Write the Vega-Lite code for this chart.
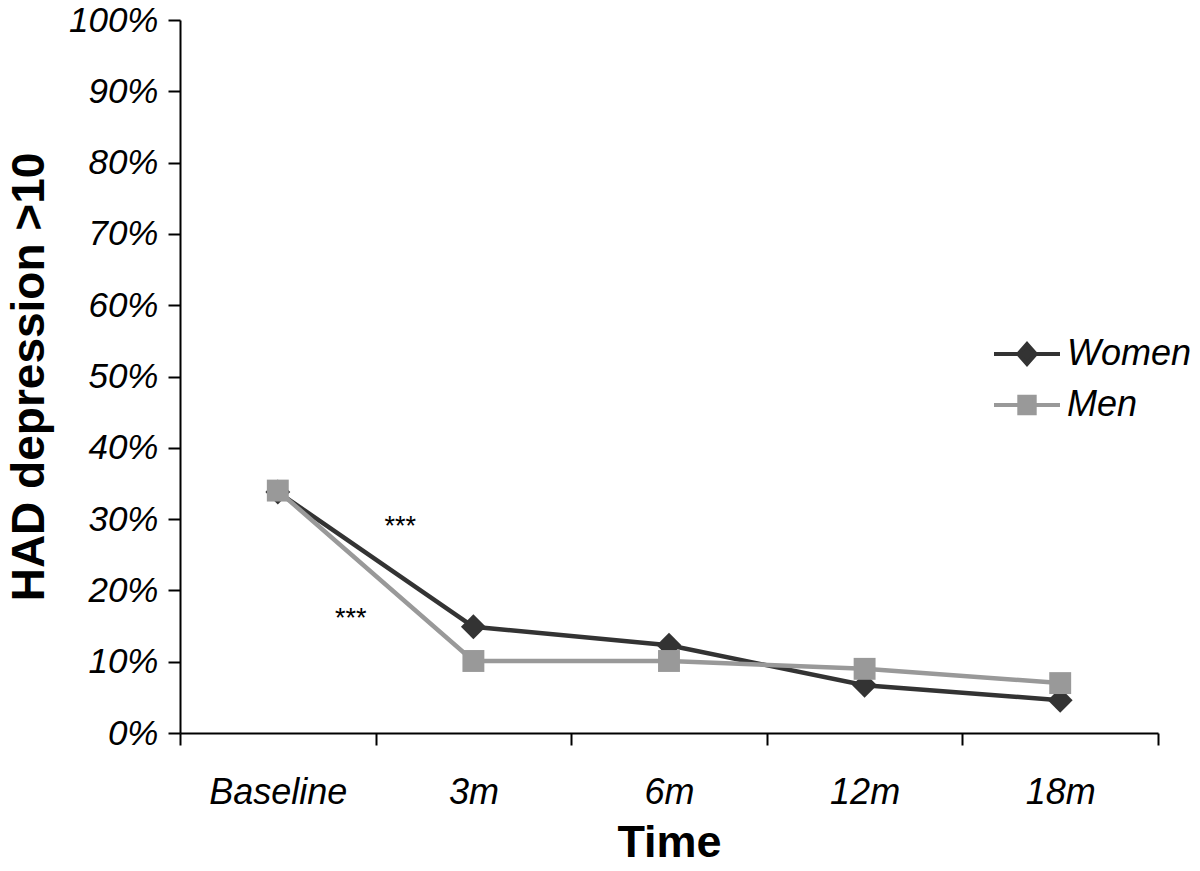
{
  "$schema": "https://vega.github.io/schema/vega-lite/v6.json",
  "width": 978,
  "height": 713,
  "autosize": {"type": "none"},
  "padding": {"left": 180, "top": 20, "right": 42, "bottom": 138},
  "background": "white",
  "config": {
    "view": {"stroke": null},
    "font": "Liberation Sans",
    "text": {"font": "Liberation Sans"},
    "legend": {
      "title": null,
      "orient": "none",
      "legendX": 829,
      "legendY": 316,
      "padding": 0,
      "symbolSize": 484,
      "labelFontSize": 36,
      "labelFontStyle": "italic",
      "labelColor": "black",
      "labelOffset": 22,
      "rowPadding": 15
    }
  },
  "datasets": {
    "series": [
      {"Sex": "Women", "Time": "Baseline", "value": 0.338},
      {"Sex": "Women", "Time": "3m", "value": 0.149},
      {"Sex": "Women", "Time": "6m", "value": 0.123},
      {"Sex": "Women", "Time": "12m", "value": 0.067},
      {"Sex": "Women", "Time": "18m", "value": 0.046},
      {"Sex": "Men", "Time": "Baseline", "value": 0.340},
      {"Sex": "Men", "Time": "3m", "value": 0.101},
      {"Sex": "Men", "Time": "6m", "value": 0.101},
      {"Sex": "Men", "Time": "12m", "value": 0.090},
      {"Sex": "Men", "Time": "18m", "value": 0.070}
    ]
  },
  "layer": [
    {
      "data": {"name": "series"},
      "mark": {"type": "line", "strokeWidth": 4.5},
      "encoding": {
        "x": {
          "field": "Time",
          "type": "nominal",
          "sort": ["Baseline", "3m", "6m", "12m", "18m"],
          "bandPosition": 0.5,
          "scale": {"type": "band", "paddingInner": 0, "paddingOuter": 0},
          "axis": {
            "title": "Time",
            "titleFontSize": 45,
            "titleFontWeight": "bold",
            "titleColor": "black",
            "titlePadding": 10,
            "labelFontSize": 36,
            "labelFontStyle": "italic",
            "labelColor": "black",
            "labelAngle": 0,
            "labelPadding": 30,
            "tickBand": "extent",
            "tickSize": 12,
            "tickWidth": 2,
            "tickColor": "black",
            "domainColor": "black",
            "domainWidth": 2,
            "grid": false
          }
        },
        "y": {
          "field": "value",
          "type": "quantitative",
          "scale": {"domain": [0, 1], "nice": false},
          "axis": {
            "values": [0, 0.1, 0.2, 0.3, 0.4, 0.5, 0.6, 0.7, 0.8, 0.9, 1.0],
            "format": ".0%",
            "title": "HAD depression >10",
            "titleFontSize": 46,
            "titleFontWeight": "bold",
            "titleColor": "black",
            "titlePadding": 15,
            "labelFontSize": 35,
            "labelFontStyle": "italic",
            "labelColor": "black",
            "labelPadding": 10,
            "tickSize": 12,
            "tickWidth": 2,
            "tickColor": "black",
            "domainColor": "black",
            "domainWidth": 2,
            "grid": false
          }
        },
        "color": {
          "field": "Sex",
          "type": "nominal",
          "scale": {"domain": ["Women", "Men"], "range": ["#333333", "#999999"]},
          "legend": {
            "encode": {
              "symbols": {
                "update": {
                  "shape": {"signal": "datum.value === 'Women' ? 'M-3,0L3,0M0,-0.9L0.8,0L0,0.9L-0.8,0Z' : 'M-3,0L3,0M-0.7,-0.75L0.7,-0.75L0.7,0.75L-0.7,0.75Z'"},
                  "fill": {"signal": "datum.value === 'Women' ? '#333333' : '#999999'"},
                  "stroke": {"signal": "datum.value === 'Women' ? '#333333' : '#999999'"},
                  "strokeWidth": {"value": 4},
                  "size": {"value": 484},
                  "opacity": {"value": 1}
                }
              }
            }
          }
        }
      }
    },
    {
      "data": {"name": "series"},
      "transform": [{"filter": "datum.Sex === 'Women'"}],
      "mark": {"type": "point", "filled": true, "opacity": 1, "size": 620, "shape": "diamond"},
      "encoding": {
        "x": {"field": "Time", "type": "nominal", "sort": ["Baseline", "3m", "6m", "12m", "18m"], "bandPosition": 0.5},
        "y": {"field": "value", "type": "quantitative"},
        "color": {"field": "Sex", "type": "nominal"}
      }
    },
    {
      "data": {"name": "series"},
      "transform": [{"filter": "datum.Sex === 'Men'"}],
      "mark": {"type": "point", "filled": true, "opacity": 1, "size": 480, "shape": "square"},
      "encoding": {
        "x": {"field": "Time", "type": "nominal", "sort": ["Baseline", "3m", "6m", "12m", "18m"], "bandPosition": 0.5},
        "y": {"field": "value", "type": "quantitative"},
        "color": {"field": "Sex", "type": "nominal"}
      }
    },
    {
      "data": {"values": [{"Time": "3m", "value": 0.277, "label": "***"}]},
      "mark": {"type": "text", "fontSize": 27, "baseline": "alphabetic", "align": "center", "color": "black"},
      "encoding": {
        "x": {"field": "Time", "type": "nominal", "sort": ["Baseline", "3m", "6m", "12m", "18m"], "bandPosition": 0.126},
        "y": {"field": "value", "type": "quantitative"},
        "text": {"field": "label"}
      }
    },
    {
      "data": {"values": [{"Time": "Baseline", "value": 0.148, "label": "***"}]},
      "mark": {"type": "text", "fontSize": 27, "baseline": "alphabetic", "align": "center", "color": "black"},
      "encoding": {
        "x": {"field": "Time", "type": "nominal", "sort": ["Baseline", "3m", "6m", "12m", "18m"], "bandPosition": 0.873},
        "y": {"field": "value", "type": "quantitative"},
        "text": {"field": "label"}
      }
    }
  ]
}
